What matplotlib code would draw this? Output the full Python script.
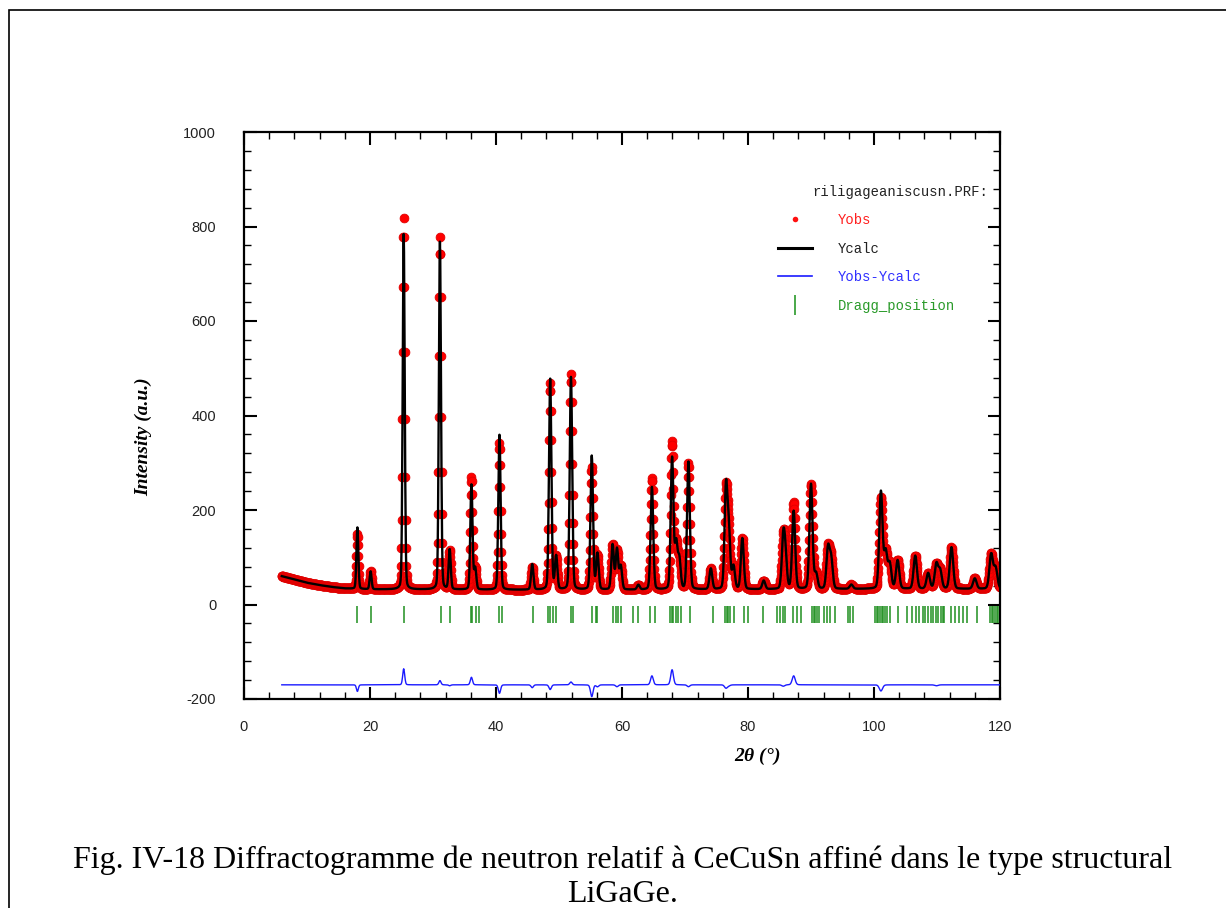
import numpy as np
import matplotlib
matplotlib.use("Agg")
import matplotlib.pyplot as plt
from matplotlib.lines import Line2D
from matplotlib.patches import Rectangle

plt.rcParams["axes.unicode_minus"] = False
plt.rcParams["mathtext.fontset"] = "custom"
plt.rcParams["mathtext.it"] = "Liberation Serif:italic:bold"

# --- data -----------------------------------------------------------------
# peak positions (2theta, deg), calc / obs heights above background
peak_pos = [18.0, 20.1, 25.35, 31.1, 32.65, 36.1, 36.7, 40.55, 45.75, 48.6,
            49.55, 51.9, 55.2, 56.1, 58.5, 59.2, 59.8, 62.6, 64.75, 67.95,
            68.6, 69.1, 70.55, 74.1, 76.5, 76.95, 77.7, 79.1, 82.5, 85.6,
            85.95, 87.25, 90.0, 90.8, 92.7, 93.2, 96.4, 101.1, 101.85, 102.5,
            103.75, 106.55, 108.6, 109.9, 110.5, 112.3, 116.0, 118.6, 119.3]
h_calc = [130, 38, 752, 736, 84, 222, 45, 328, 54, 446,
          70, 450, 283, 76, 95, 86, 50, 10, 217, 278,
          95, 62, 270, 44, 212, 120, 48, 108, 18, 105,
          60, 165, 222, 32, 85, 62, 9, 205, 76, 52,
          60, 70, 33, 52, 38, 88, 22, 73, 44]
h_obs = [116, 38, 786, 745, 82, 238, 45, 310, 48, 436,
         70, 456, 258, 72, 95, 82, 50, 10, 236, 310,
         95, 62, 266, 44, 205, 118, 48, 108, 18, 102,
         60, 184, 222, 32, 85, 62, 9, 192, 76, 52,
         60, 70, 33, 50, 38, 88, 22, 73, 44]

# background anchor points
bg_x = [6, 8, 10, 12, 14, 16, 20, 40, 60, 80, 100, 120]
bg_y = [60, 53, 46, 41, 37, 34, 32, 31, 31, 32, 33, 33]

# Bragg reflection positions
bragg = [18.0, 20.1, 25.45, 31.2, 32.7, 36.0, 36.2, 36.8, 37.3, 40.5, 40.9,
         45.8, 48.25, 48.6, 49.1, 49.6, 51.95, 52.2, 55.3, 55.9, 56.1,
         58.6, 59.0, 59.4, 59.9, 61.8, 62.6, 64.5, 65.2, 67.6, 67.9, 68.1,
         68.5, 68.9, 69.3, 70.8, 74.5, 76.3, 76.6, 76.9, 77.1, 77.8, 79.3,
         80.0, 82.4, 84.6, 85.1, 85.5, 85.9, 87.1, 87.7, 88.4, 90.1, 90.4,
         90.6, 90.9, 91.3, 92.0, 92.5, 93.0, 93.8, 95.8, 96.2, 96.6, 100.2,
         100.4, 100.7, 101.0, 101.2, 101.5, 101.7, 102.0, 102.5, 103.8,
         105.3, 106.0, 106.7, 107.2, 107.7, 108.1, 108.6, 109.0, 109.4,
         109.8, 110.2, 110.6, 110.9, 111.1, 112.3, 112.9, 113.5, 114.2,
         114.8, 116.3, 118.4, 118.7, 118.9, 119.2, 119.5, 119.7]

diff_offset = -170

# --- profile ----------------------------------------------------------------
tth = np.arange(6.0, 120.01, 0.05)
bg = np.interp(tth, bg_x, bg_y)


def profile(heights):
    y = bg.copy()
    for p, h in zip(peak_pos, heights):
        w = 0.30 + 0.003 * p
        g = np.exp(-4 * np.log(2) * ((tth - p) / w) ** 2)
        l = 1 / (1 + 4 * ((tth - p) / w) ** 2)
        y += h * (0.85 * g + 0.15 * l)
    return y


ycalc = profile(h_calc)
yobs = profile(h_obs)
ydiff = yobs - ycalc + diff_offset

# --- figure -----------------------------------------------------------------
fig = plt.figure(figsize=(12.26, 9.08), dpi=100)
ax = fig.add_axes([244 / 1226, 1 - 699 / 908, 756 / 1226, 567 / 908])

ax.plot(tth, yobs, "o", color="#ff0000", ms=6.3, mew=0.6, mec="#e00000",
        zorder=2)
ax.plot(tth, ycalc, "-", color="black", lw=1.7, zorder=3)
ax.plot(tth, ydiff, "-", color="#1a1aff", lw=1.0, zorder=3)
ax.vlines(bragg, -40, -4, color="#1f8f1f", lw=1.1, zorder=3)

ax.set_xlim(0, 120)
ax.set_ylim(-200, 1000)
ax.set_xticks(np.arange(0, 121, 20))
ax.set_xticks(np.arange(0, 121, 4), minor=True)
ax.set_yticks(np.arange(-200, 1001, 200))
ax.set_yticks(np.arange(-200, 1001, 40), minor=True)

ax.tick_params(which="both", direction="in", top=True, right=True,
               labelsize=10.5, labelcolor="#222222")
ax.tick_params(which="major", length=9, width=1.5)
ax.tick_params(which="minor", length=5, width=1.0)
ax.tick_params(axis="x", pad=15)
ax.tick_params(axis="y", pad=20)
for lab in ax.get_xticklabels() + ax.get_yticklabels():
    lab.set_fontfamily("Liberation Sans")
for s in ax.spines.values():
    s.set_linewidth(1.6)

ax.set_ylabel("Intensity (a.u.)", family="Liberation Serif", style="italic",
              weight="bold", fontsize=14)
ax.yaxis.set_label_coords(-0.122, 0.462)
ax.set_xlabel(r"2$\theta$ (°)", family="Liberation Serif", style="italic",
              weight="bold", fontsize=14)
ax.xaxis.set_label_coords(0.679, -0.083)

handles = [
    Line2D([], [], ls="none", marker="o", color="#ff1010", ms=4, mew=0),
    Line2D([], [], color="black", lw=2.2),
    Line2D([], [], color="#1a1aff", lw=1.2),
    Line2D([], [], ls="none", marker="|", color="#2a9a2a", ms=14, mew=1.2),
]
labels = ["Yobs", "Ycalc", "Yobs-Ycalc", "Dragg_position"]
leg = ax.legend(handles, labels,
                loc="upper left", bbox_to_anchor=(0.706, 0.857),
                frameon=False, borderpad=0, borderaxespad=0,
                prop={"family": "Liberation Mono", "size": 10},
                labelcolor=["#ff2020", "#222222", "#3030ff", "#2a9a2a"],
                handlelength=2.45, handletextpad=1.85, labelspacing=1.05)
ax.text(0.985, (699 - 192) / 567, "riligageaniscusn.PRF:", transform=ax.transAxes,
        ha="right", va="center", family="Liberation Mono", fontsize=10,
        color="#222222")

# page frame and caption
fig.add_artist(Rectangle((9 / 1226, -0.5), 2.0, 0.5 + 1 - 10 / 908,
                         transform=fig.transFigure, fill=False,
                         ec="black", lw=1.2))
fig.text(623 / 1226, 1 - 860 / 908,
         "Fig. IV-18 Diffractogramme de neutron relatif à CeCuSn affiné dans le type structural",
         ha="center", va="center", family="Liberation Serif", fontsize=23)
fig.text(623 / 1226, 1 - 894 / 908, "LiGaGe.",
         ha="center", va="center", family="Liberation Serif", fontsize=23)

fig.savefig("out.png", dpi=100)
